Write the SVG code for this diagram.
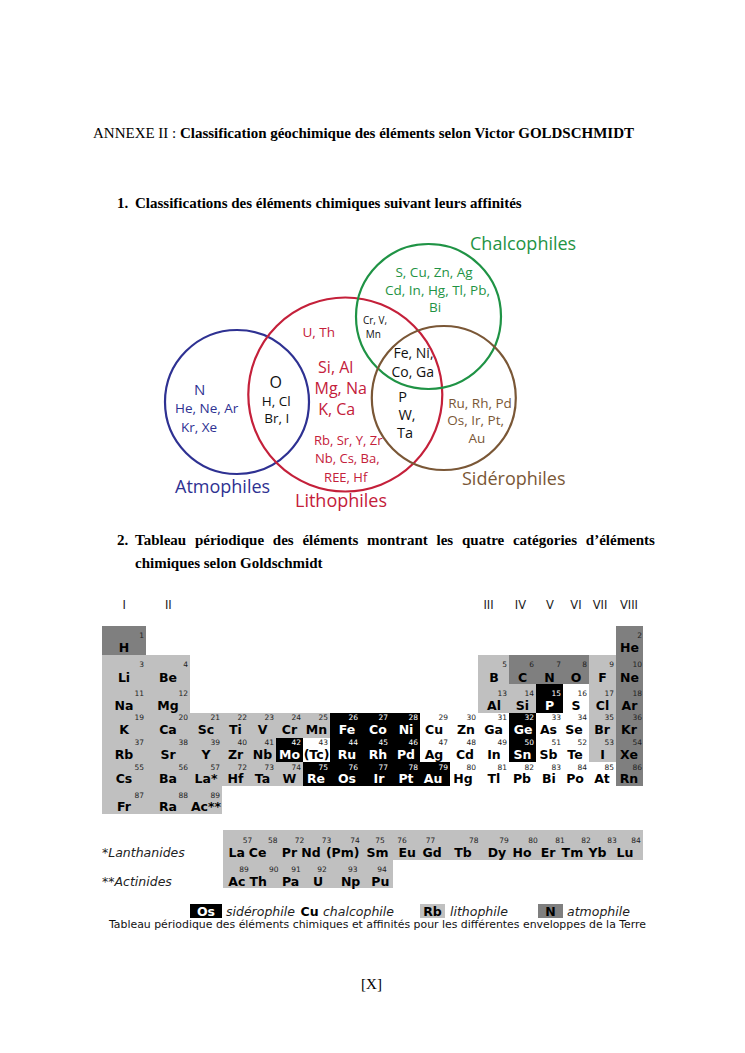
<svg xmlns="http://www.w3.org/2000/svg" width="745" height="1053" viewBox="0 0 745 1053">
<style>
.serif{font-family:"Liberation Serif","Times New Roman",serif;font-size:15px;fill:#000}
.b{font-weight:bold}
.vc{fill:none;stroke-width:2.2}
.vl{font-family:"Open Sans","Noto Sans",sans-serif;font-size:18px}
.ve{font-family:"Open Sans","Noto Sans",sans-serif;font-size:13.5px;text-anchor:middle}
.vs{font-family:"Open Sans","Noto Sans",sans-serif;font-size:10px;text-anchor:middle}
.blue{fill:#2e3192}.red{fill:#c4203a}.green{fill:#1f9345}.brown{fill:#7a5736}.blk{fill:#111}
rect{shape-rendering:crispEdges}
.lit rect{fill:#c0c0c0}.atm rect{fill:#7f7f7f}.sid rect{fill:#000}.cha rect{fill:#fff}
.s{font-family:"DejaVu Sans",Verdana,sans-serif;font-weight:bold;font-size:12.5px;text-anchor:middle;fill:#000}
.n{font-family:"DejaVu Sans",Verdana,sans-serif;font-size:7.5px;text-anchor:end;fill:#222}
.nm{font-family:"DejaVu Sans",Verdana,sans-serif;font-size:7.5px;text-anchor:middle;fill:#222}
.sid text{fill:#fff}
.hd{font-family:"DejaVu Sans",Verdana,sans-serif;font-size:11.5px;text-anchor:middle;fill:#222}
.it{font-family:"DejaVu Sans",Verdana,sans-serif;font-style:italic;font-size:12.5px;fill:#222}
.cap{font-family:"DejaVu Sans",Verdana,sans-serif;font-size:10.5px;fill:#111}
</style>

<g id="page-text">
<text class="serif" x="93" y="137.5" textLength="541" lengthAdjust="spacing">ANNEXE II : <tspan class="b">Classification géochimique des éléments selon Victor GOLDSCHMIDT</tspan></text>
<text class="serif b" x="117" y="208">1.</text>
<text class="serif b" x="135" y="208">Classifications des éléments chimiques suivant leurs affinités</text>
<text class="serif b" x="117" y="545">2.</text>
<text class="serif b" x="135" y="545" word-spacing="5">Tableau périodique des éléments montrant les quatre catégories d’éléments</text>
<text class="serif b" x="135" y="568">chimiques selon Goldschmidt</text>
<text class="serif" x="371.5" y="989" text-anchor="middle">[X]</text>
</g>

<g id="venn">
<g id="atmophiles"><circle class="vc" cx="237" cy="402" r="72" stroke="#2e3192"/><text class="vl blue" x="175" y="493">Atmophiles</text></g>
<g id="lithophiles"><circle class="vc" cx="345.3" cy="394.5" r="97" stroke="#c4203a"/><text class="vl red" x="295" y="507">Lithophiles</text></g>
<g id="chalcophiles"><circle class="vc" cx="428.5" cy="316.5" r="72.5" stroke="#1f9345"/><text class="vl green" x="470" y="250">Chalcophiles</text></g>
<g id="siderophiles"><circle class="vc" cx="443.8" cy="398" r="72" stroke="#7a5736"/><text class="vl brown" x="462" y="485">Sidérophiles</text></g>

<g id="set-chalco" class="green">
<text class="ve" x="434" y="276.7">S, Cu, Zn, Ag</text>
<text class="ve" x="437.5" y="295">Cd, In, Hg, Tl, Pb,</text>
<text class="ve" x="435" y="312.3">Bi</text>
</g>
<g id="set-litho-chalco" class="blk">
<text class="vs" x="375" y="324.3">Cr, V,</text>
<text class="vs" x="373.3" y="338.3">Mn</text>
</g>
<g id="set-litho-top" class="red"><text class="ve" x="318.7" y="336.7">U, Th</text></g>
<g id="set-litho-chalco-sidero" class="blk">
<text class="ve" x="413.5" y="358.3" style="font-size:14px">Fe, Ni,</text>
<text class="ve" x="412.7" y="376.7" style="font-size:14px">Co, Ga</text>
</g>
<g id="set-litho-main" class="red">
<text class="ve" x="335.7" y="373.3" style="font-size:16px">Si, Al</text>
<text class="ve" x="340.7" y="394" style="font-size:16px">Mg, Na</text>
<text class="ve" x="336.7" y="415" style="font-size:16px">K, Ca</text>
</g>
<g id="set-atmo-litho" class="blk">
<text class="ve" x="275.7" y="387.7" style="font-size:16px">O</text>
<text class="ve" x="276.3" y="406">H, Cl</text>
<text class="ve" x="276.7" y="423.3">Br, I</text>
</g>
<g id="set-atmo" class="blue">
<text class="ve" x="199.7" y="395" style="font-size:15px">N</text>
<text class="ve" x="206.7" y="413.3">He, Ne, Ar</text>
<text class="ve" x="199" y="431.7">Kr, Xe</text>
</g>
<g id="set-litho-sidero" class="blk">
<text class="ve" x="402.7" y="401.7" style="font-size:14.5px">P</text>
<text class="ve" x="407" y="420" style="font-size:14.5px">W,</text>
<text class="ve" x="405" y="438.3" style="font-size:14.5px">Ta</text>
</g>
<g id="set-sidero" class="brown">
<text class="ve" x="480" y="407.7">Ru, Rh, Pd</text>
<text class="ve" x="475.7" y="425">Os, Ir, Pt,</text>
<text class="ve" x="477" y="443.3">Au</text>
</g>
<g id="set-litho-bottom" class="red">
<text class="ve" x="348.3" y="445" style="font-size:13px">Rb, Sr, Y, Zr</text>
<text class="ve" x="347.3" y="463.3" style="font-size:13px">Nb, Cs, Ba,</text>
<text class="ve" x="345.7" y="481.7" style="font-size:13px">REE, Hf</text>
</g>
</g>

<g id="group-headers">
<text class="hd" x="124.3" y="608.5">I</text>
<text class="hd" x="168.3" y="608.5">II</text>
<text class="hd" x="488.5" y="608.5">III</text>
<text class="hd" x="520.5" y="608.5">IV</text>
<text class="hd" x="550" y="608.5">V</text>
<text class="hd" x="576" y="608.5">VI</text>
<text class="hd" x="600" y="608.5">VII</text>
<text class="hd" x="629" y="608.5">VIII</text>
</g>

<g id="periodic-table">
<g id="e-H" class="atm"><rect x="102" y="626" width="44" height="29"/><text class="n" x="144" y="638">1</text><text class="s" x="124" y="652">H</text></g>
<g id="e-He" class="atm"><rect x="616" y="626" width="27" height="29"/><text class="n" x="642" y="638">2</text><text class="s" x="629.5" y="652">He</text></g>
<g id="e-Li" class="lit"><rect x="102" y="655" width="44" height="29"/><text class="n" x="144" y="667">3</text><text class="s" x="124" y="681.5">Li</text></g>
<g id="e-Be" class="lit"><rect x="146" y="655" width="44" height="29"/><text class="n" x="188" y="667">4</text><text class="s" x="168" y="681.5">Be</text></g>
<g id="e-B" class="lit"><rect x="478" y="655" width="31" height="29"/><text class="n" x="507" y="667">5</text><text class="s" x="494" y="681.5">B</text></g>
<g id="e-C" class="atm"><rect x="509" y="655" width="27" height="29"/><text class="n" x="534" y="667">6</text><text class="s" x="522.5" y="681.5">C</text></g>
<g id="e-N" class="atm"><rect x="536" y="655" width="27" height="29"/><text class="n" x="561" y="667">7</text><text class="s" x="549.5" y="681.5">N</text></g>
<g id="e-O" class="atm"><rect x="563" y="655" width="26" height="29"/><text class="n" x="587" y="667">8</text><text class="s" x="576" y="681.5">O</text></g>
<g id="e-F" class="lit"><rect x="589" y="655" width="27" height="29"/><text class="n" x="614" y="667">9</text><text class="s" x="602.5" y="681.5">F</text></g>
<g id="e-Ne" class="atm"><rect x="616" y="655" width="27" height="29"/><text class="n" x="642" y="667">10</text><text class="s" x="629.5" y="681.5">Ne</text></g>
<g id="e-Na" class="lit"><rect x="102" y="684" width="44" height="29"/><text class="n" x="144" y="696">11</text><text class="s" x="124" y="710">Na</text></g>
<g id="e-Mg" class="lit"><rect x="146" y="684" width="44" height="29"/><text class="n" x="188" y="696">12</text><text class="s" x="168" y="710">Mg</text></g>
<g id="e-Al" class="lit"><rect x="478" y="684" width="31" height="29"/><text class="n" x="507" y="696">13</text><text class="s" x="494" y="710">Al</text></g>
<g id="e-Si" class="lit"><rect x="509" y="684" width="27" height="29"/><text class="n" x="534" y="696">14</text><text class="s" x="522.5" y="710">Si</text></g>
<g id="e-P" class="sid"><rect x="536" y="684" width="27" height="29"/><text class="n" x="561" y="696">15</text><text class="s" x="549.5" y="710">P</text></g>
<g id="e-S" class="cha"><rect x="563" y="684" width="26" height="29"/><text class="n" x="587" y="696">16</text><text class="s" x="576" y="710">S</text></g>
<g id="e-Cl" class="lit"><rect x="589" y="684" width="27" height="29"/><text class="n" x="614" y="696">17</text><text class="s" x="602.5" y="710">Cl</text></g>
<g id="e-Ar" class="atm"><rect x="616" y="684" width="27" height="29"/><text class="n" x="642" y="696">18</text><text class="s" x="629.5" y="710">Ar</text></g>
<g id="e-K" class="lit"><rect x="102" y="713" width="44" height="25"/><text class="n" x="144" y="720">19</text><text class="s" x="124" y="734">K</text></g>
<g id="e-Ca" class="lit"><rect x="146" y="713" width="44" height="25"/><text class="n" x="188" y="720">20</text><text class="s" x="168" y="734">Ca</text></g>
<g id="e-Sc" class="lit"><rect x="190" y="713" width="32" height="25"/><text class="n" x="220" y="720">21</text><text class="s" x="206" y="734">Sc</text></g>
<g id="e-Ti" class="lit"><rect x="222" y="713" width="27" height="25"/><text class="n" x="247" y="720">22</text><text class="s" x="235.5" y="734">Ti</text></g>
<g id="e-V" class="lit"><rect x="249" y="713" width="27" height="25"/><text class="n" x="274" y="720">23</text><text class="s" x="262.5" y="734">V</text></g>
<g id="e-Cr" class="lit"><rect x="276" y="713" width="27" height="25"/><text class="n" x="301" y="720">24</text><text class="s" x="289.5" y="734">Cr</text></g>
<g id="e-Mn" class="lit"><rect x="303" y="713" width="27" height="25"/><text class="n" x="328" y="720">25</text><text class="s" x="316.5" y="734">Mn</text></g>
<g id="e-Fe" class="sid"><rect x="330" y="713" width="30" height="25"/><text class="n" x="358" y="720">26</text><text class="s" x="347" y="734">Fe</text></g>
<g id="e-Co" class="sid"><rect x="360" y="713" width="30" height="25"/><text class="n" x="388" y="720">27</text><text class="s" x="378" y="734">Co</text></g>
<g id="e-Ni" class="sid"><rect x="390" y="713" width="30" height="25"/><text class="n" x="418" y="720">28</text><text class="s" x="406" y="734">Ni</text></g>
<g id="e-Cu" class="cha"><rect x="420" y="713" width="30" height="25"/><text class="n" x="448" y="720">29</text><text class="s" x="434" y="734">Cu</text></g>
<g id="e-Zn" class="cha"><rect x="450" y="713" width="28" height="25"/><text class="n" x="476" y="720">30</text><text class="s" x="466" y="734">Zn</text></g>
<g id="e-Ga" class="cha"><rect x="478" y="713" width="31" height="25"/><text class="n" x="507" y="720">31</text><text class="s" x="493.5" y="734">Ga</text></g>
<g id="e-Ge" class="sid"><rect x="509" y="713" width="27" height="25"/><text class="n" x="534" y="720">32</text><text class="s" x="523" y="734">Ge</text></g>
<g id="e-As" class="cha"><rect x="536" y="713" width="27" height="25"/><text class="n" x="561" y="720">33</text><text class="s" x="548.5" y="734">As</text></g>
<g id="e-Se" class="cha"><rect x="563" y="713" width="26" height="25"/><text class="n" x="587" y="720">34</text><text class="s" x="574" y="734">Se</text></g>
<g id="e-Br" class="lit"><rect x="589" y="713" width="27" height="25"/><text class="n" x="614" y="720">35</text><text class="s" x="602" y="734">Br</text></g>
<g id="e-Kr" class="atm"><rect x="616" y="713" width="27" height="25"/><text class="n" x="642" y="720">36</text><text class="s" x="629" y="734">Kr</text></g>
<g id="e-Rb" class="lit"><rect x="102" y="738" width="44" height="24"/><text class="n" x="144" y="745">37</text><text class="s" x="124" y="758.5">Rb</text></g>
<g id="e-Sr" class="lit"><rect x="146" y="738" width="44" height="24"/><text class="n" x="188" y="745">38</text><text class="s" x="168" y="758.5">Sr</text></g>
<g id="e-Y" class="lit"><rect x="190" y="738" width="32" height="24"/><text class="n" x="220" y="745">39</text><text class="s" x="206" y="758.5">Y</text></g>
<g id="e-Zr" class="lit"><rect x="222" y="738" width="27" height="24"/><text class="n" x="247" y="745">40</text><text class="s" x="235.5" y="758.5">Zr</text></g>
<g id="e-Nb" class="lit"><rect x="249" y="738" width="27" height="24"/><text class="n" x="274" y="745">41</text><text class="s" x="262.5" y="758.5">Nb</text></g>
<g id="e-Mo" class="sid"><rect x="276" y="738" width="27" height="24"/><text class="n" x="301" y="745">42</text><text class="s" x="289.5" y="758.5">Mo</text></g>
<g id="e-Tc" class="cha"><rect x="303" y="738" width="27" height="24"/><text class="n" x="328" y="745">43</text><text class="s" x="316.5" y="758.5">(Tc)</text></g>
<g id="e-Ru" class="sid"><rect x="330" y="738" width="30" height="24"/><text class="n" x="358" y="745">44</text><text class="s" x="347" y="758.5">Ru</text></g>
<g id="e-Rh" class="sid"><rect x="360" y="738" width="30" height="24"/><text class="n" x="388" y="745">45</text><text class="s" x="378" y="758.5">Rh</text></g>
<g id="e-Pd" class="sid"><rect x="390" y="738" width="30" height="24"/><text class="n" x="418" y="745">46</text><text class="s" x="406" y="758.5">Pd</text></g>
<g id="e-Ag" class="cha"><rect x="420" y="738" width="30" height="24"/><text class="n" x="448" y="745">47</text><text class="s" x="434" y="758.5">Ag</text></g>
<g id="e-Cd" class="cha"><rect x="450" y="738" width="28" height="24"/><text class="n" x="476" y="745">48</text><text class="s" x="465" y="758.5">Cd</text></g>
<g id="e-In" class="cha"><rect x="478" y="738" width="31" height="24"/><text class="n" x="507" y="745">49</text><text class="s" x="494" y="758.5" font-weight="normal">In</text></g>
<g id="e-Sn" class="sid"><rect x="509" y="738" width="27" height="24"/><text class="n" x="534" y="745">50</text><text class="s" x="522.5" y="758.5">Sn</text></g>
<g id="e-Sb" class="cha"><rect x="536" y="738" width="27" height="24"/><text class="n" x="561" y="745">51</text><text class="s" x="548.5" y="758.5">Sb</text></g>
<g id="e-Te" class="cha"><rect x="563" y="738" width="26" height="24"/><text class="n" x="587" y="745">52</text><text class="s" x="575" y="758.5">Te</text></g>
<g id="e-I" class="lit"><rect x="589" y="738" width="27" height="24"/><text class="n" x="614" y="745">53</text><text class="s" x="602.5" y="758.5">I</text></g>
<g id="e-Xe" class="atm"><rect x="616" y="738" width="27" height="24"/><text class="n" x="642" y="745">54</text><text class="s" x="629" y="758.5">Xe</text></g>
<g id="e-Cs" class="lit"><rect x="102" y="762" width="44" height="24"/><text class="n" x="144" y="769.5">55</text><text class="s" x="124" y="783">Cs</text></g>
<g id="e-Ba" class="lit"><rect x="146" y="762" width="44" height="24"/><text class="n" x="188" y="769.5">56</text><text class="s" x="168" y="783">Ba</text></g>
<g id="e-La" class="lit"><rect x="190" y="762" width="32" height="24"/><text class="n" x="220" y="769.5">57</text><text class="s" x="206" y="783">La*</text></g>
<g id="e-Hf" class="lit"><rect x="222" y="762" width="27" height="24"/><text class="n" x="247" y="769.5">72</text><text class="s" x="235.5" y="783">Hf</text></g>
<g id="e-Ta" class="lit"><rect x="249" y="762" width="27" height="24"/><text class="n" x="274" y="769.5">73</text><text class="s" x="262.5" y="783">Ta</text></g>
<g id="e-W" class="lit"><rect x="276" y="762" width="27" height="24"/><text class="n" x="301" y="769.5">74</text><text class="s" x="289.5" y="783">W</text></g>
<g id="e-Re" class="sid"><rect x="303" y="762" width="27" height="24"/><text class="n" x="328" y="769.5">75</text><text class="s" x="316" y="783">Re</text></g>
<g id="e-Os" class="sid"><rect x="330" y="762" width="30" height="24"/><text class="n" x="358" y="769.5">76</text><text class="s" x="347" y="783">Os</text></g>
<g id="e-Ir" class="sid"><rect x="360" y="762" width="30" height="24"/><text class="n" x="388" y="769.5">77</text><text class="s" x="379" y="783">Ir</text></g>
<g id="e-Pt" class="sid"><rect x="390" y="762" width="30" height="24"/><text class="n" x="418" y="769.5">78</text><text class="s" x="406" y="783">Pt</text></g>
<g id="e-Au" class="sid"><rect x="420" y="762" width="30" height="24"/><text class="n" x="448" y="769.5">79</text><text class="s" x="433" y="783">Au</text></g>
<g id="e-Hg" class="cha"><rect x="450" y="762" width="28" height="24"/><text class="n" x="476" y="769.5">80</text><text class="s" x="463" y="783">Hg</text></g>
<g id="e-Tl" class="cha"><rect x="478" y="762" width="31" height="24"/><text class="n" x="507" y="769.5">81</text><text class="s" x="494" y="783">Tl</text></g>
<g id="e-Pb" class="cha"><rect x="509" y="762" width="27" height="24"/><text class="n" x="534" y="769.5">82</text><text class="s" x="522" y="783">Pb</text></g>
<g id="e-Bi" class="cha"><rect x="536" y="762" width="27" height="24"/><text class="n" x="561" y="769.5">83</text><text class="s" x="549" y="783">Bi</text></g>
<g id="e-Po" class="cha"><rect x="563" y="762" width="26" height="24"/><text class="n" x="587" y="769.5">84</text><text class="s" x="575" y="783" font-weight="normal">Po</text></g>
<g id="e-At" class="cha"><rect x="589" y="762" width="27" height="24"/><text class="n" x="614" y="769.5">85</text><text class="s" x="602" y="783">At</text></g>
<g id="e-Rn" class="atm"><rect x="616" y="762" width="27" height="24"/><text class="n" x="642" y="769.5">86</text><text class="s" x="629" y="783">Rn</text></g>
<g id="e-Fr" class="lit"><rect x="102" y="786" width="44" height="28"/><text class="n" x="144" y="797.5">87</text><text class="s" x="124" y="811">Fr</text></g>
<g id="e-Ra" class="lit"><rect x="146" y="786" width="44" height="28"/><text class="n" x="188" y="797.5">88</text><text class="s" x="168" y="811">Ra</text></g>
<g id="e-Ac" class="lit"><rect x="190" y="786" width="32" height="28"/><text class="n" x="220" y="797.5">89</text><text class="s" x="206" y="811">Ac**</text></g>
</g>

<g id="lanthanides" class="lit">
<rect x="223" y="830" width="420" height="30"/>
<text class="it" x="102" y="856.5">*Lanthanides</text>
<g id="l-La"><text class="nm" x="247.5" y="843">57</text><text class="s" x="236.8" y="856.6">La</text></g>
<g id="l-Ce"><text class="nm" x="272.7" y="843">58</text><text class="s" x="257.6" y="856.6">Ce</text></g>
<g id="l-Pr"><text class="nm" x="299.6" y="843">72</text><text class="s" x="289.5" y="856.6" font-weight="normal">Pr</text></g>
<g id="l-Nd"><text class="nm" x="326.5" y="843">73</text><text class="s" x="311" y="856.6">Nd</text></g>
<g id="l-Pm"><text class="nm" x="355" y="843">74</text><text class="s" x="342.7" y="856.6">(Pm)</text></g>
<g id="l-Sm"><text class="nm" x="380" y="843">75</text><text class="s" x="377.5" y="856.6">Sm</text></g>
<g id="l-Eu"><text class="nm" x="402" y="843">76</text><text class="s" x="407.3" y="856.6">Eu</text></g>
<g id="l-Gd"><text class="nm" x="430.6" y="843">77</text><text class="s" x="432" y="856.6">Gd</text></g>
<g id="l-Tb"><text class="nm" x="473.7" y="843">78</text><text class="s" x="463" y="856.6">Tb</text></g>
<g id="l-Dy"><text class="nm" x="504" y="843">79</text><text class="s" x="497" y="856.6">Dy</text></g>
<g id="l-Ho"><text class="nm" x="533" y="843">80</text><text class="s" x="522" y="856.6">Ho</text></g>
<g id="l-Er"><text class="nm" x="560" y="843">81</text><text class="s" x="548" y="856.6">Er</text></g>
<g id="l-Tm"><text class="nm" x="586" y="843">82</text><text class="s" x="572.4" y="856.6">Tm</text></g>
<g id="l-Yb"><text class="nm" x="612" y="843">83</text><text class="s" x="597.5" y="856.6">Yb</text></g>
<g id="l-Lu"><text class="nm" x="636" y="843">84</text><text class="s" x="625" y="856.6">Lu</text></g>
</g>

<g id="actinides" class="lit">
<rect x="223" y="860" width="170" height="28"/>
<text class="it" x="102" y="885.5">**Actinides</text>
<g id="a-Ac"><text class="nm" x="244" y="871.5">89</text><text class="s" x="236.8" y="885.5">Ac</text></g>
<g id="a-Th"><text class="nm" x="273.7" y="871.5">90</text><text class="s" x="258.3" y="885.5">Th</text></g>
<g id="a-Pa"><text class="nm" x="296" y="871.5">91</text><text class="s" x="290.6" y="885.5">Pa</text></g>
<g id="a-U"><text class="nm" x="322" y="871.5">92</text><text class="s" x="318" y="885.5" font-weight="normal">U</text></g>
<g id="a-Np"><text class="nm" x="352.7" y="871.5">93</text><text class="s" x="350.6" y="885.5">Np</text></g>
<g id="a-Pu"><text class="nm" x="382" y="871.5">94</text><text class="s" x="380.4" y="885.5">Pu</text></g>
</g>

<g id="legend">
<g id="lg-sid" class="sid"><rect x="190" y="904" width="32" height="14"/><text class="s" x="206" y="916">Os</text></g>
<text class="it" x="226" y="916">sidérophile</text>
<g id="lg-cha" class="cha"><text class="s" x="309.5" y="916">Cu</text></g>
<text class="it" x="323" y="916">chalcophile</text>
<g id="lg-lit" class="lit"><rect x="420" y="904" width="25" height="14"/><text class="s" x="432.5" y="916">Rb</text></g>
<text class="it" x="450" y="916">lithophile</text>
<g id="lg-atm" class="atm"><rect x="538" y="904" width="25" height="14"/><text class="s" x="550.5" y="916">N</text></g>
<text class="it" x="567" y="916">atmophile</text>
<text class="cap" x="109" y="928" textLength="537" lengthAdjust="spacingAndGlyphs">Tableau périodique des éléments chimiques et affinités pour les différentes enveloppes de la Terre</text>
</g>
</svg>
